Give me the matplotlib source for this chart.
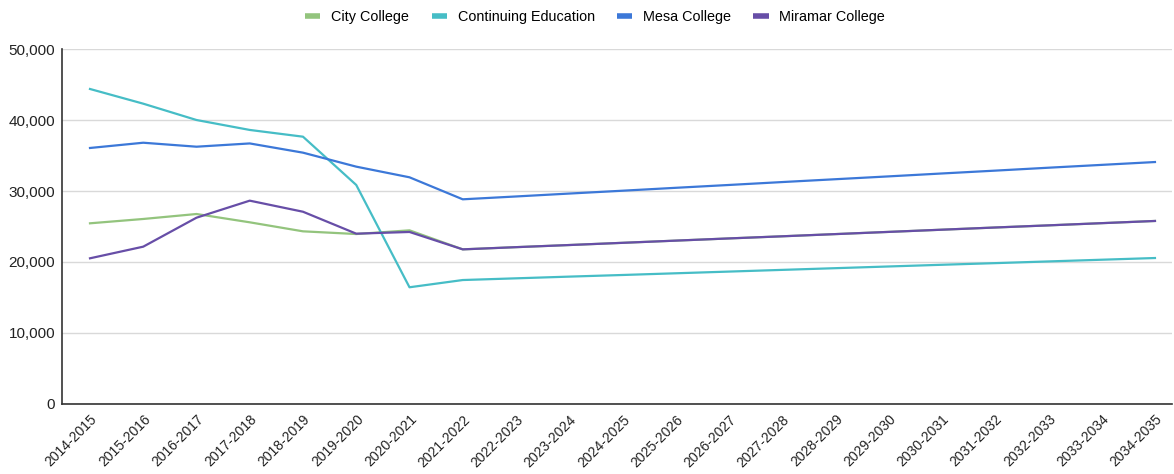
import matplotlib
matplotlib.use("Agg")
import matplotlib.pyplot as plt
from matplotlib.ticker import FuncFormatter

plt.rcParams['font.family'] = ['Liberation Sans', 'DejaVu Sans']

years = ["2014-2015", "2015-2016", "2016-2017", "2017-2018", "2018-2019",
         "2019-2020", "2020-2021", "2021-2022", "2022-2023", "2023-2024",
         "2024-2025", "2025-2026", "2026-2027", "2027-2028", "2028-2029",
         "2029-2030", "2030-2031", "2031-2032", "2032-2033", "2033-2034",
         "2034-2035"]

city_college = [25450, 26060, 26760, 25590, 24320, 23940, 24460, 21780,
                22090, 22390, 22700, 23010, 23320, 23620, 23930, 24240,
                24550, 24860, 25160, 25470, 25780]
continuing_ed = [44370, 42300, 40000, 38600, 37650, 30850, 16440, 17460,
                 17700, 17940, 18170, 18410, 18650, 18890, 19130, 19370,
                 19610, 19840, 20080, 20320, 20560]
mesa_college = [36060, 36800, 36240, 36700, 35400, 33430, 31930, 28830,
                29230, 29640, 30040, 30450, 30850, 31260, 31660, 32060,
                32470, 32870, 33280, 33680, 34080]
miramar_college = [20520, 22160, 26240, 28640, 27080, 23990, 24230, 21780,
                   22090, 22390, 22700, 23010, 23320, 23620, 23930, 24240,
                   24550, 24860, 25160, 25470, 25780]

series = [
    ("City College", city_college, "#93c47d"),
    ("Continuing Education", continuing_ed, "#46bdc6"),
    ("Mesa College", mesa_college, "#3c78d8"),
    ("Miramar College", miramar_college, "#674ea7"),
]

fig = plt.figure(figsize=(11.74, 4.74), dpi=100)
ax = fig.add_axes([0.0528, 0.1477, 0.9455, 0.7489])

x = list(range(len(years)))
for name, vals, color in series:
    ax.plot(x, vals, color=color, linewidth=1.6, label=name,
            solid_joinstyle='round')

ax.set_ylim(0, 50000)
ax.set_xlim(-0.526, 20.32)
ax.set_yticks([0, 10000, 20000, 30000, 40000, 50000])
ax.yaxis.set_major_formatter(FuncFormatter(lambda v, p: f"{int(v):,}"))
ax.grid(axis='y', color='#d9d9d9', linewidth=1)
ax.set_axisbelow(True)

ax.set_xticks(x)
ax.set_xticklabels(years, rotation=45, ha='right', rotation_mode='anchor',
                   fontsize=10, color='#222222')
ax.tick_params(axis='x', length=0, pad=6)
ax.tick_params(axis='y', length=0, pad=5, labelsize=11, labelcolor='#222222')

for side in ('top', 'right'):
    ax.spines[side].set_visible(False)
for side in ('left', 'bottom'):
    ax.spines[side].set_color('#333333')
    ax.spines[side].set_linewidth(1.2)

leg = fig.legend(loc='upper center', bbox_to_anchor=(0.507, 1.006), ncol=4,
                 frameon=False, fontsize=10.4, handlelength=1.05,
                 handletextpad=0.75, columnspacing=1.55)
for line in leg.get_lines():
    line.set_linewidth(4)
    line.set_solid_capstyle('butt')

fig.savefig("out.png", dpi=100)
